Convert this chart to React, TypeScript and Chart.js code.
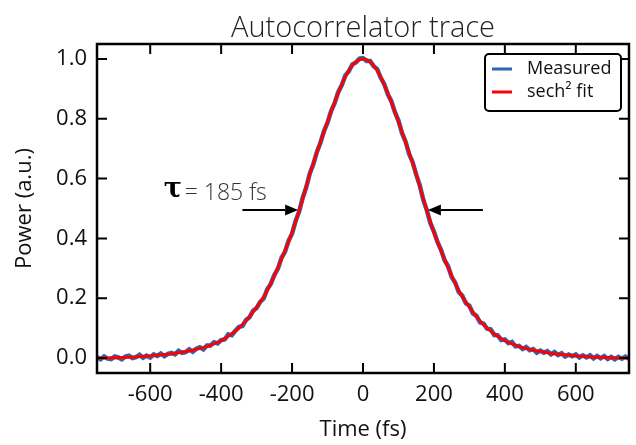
import { useEffect, useRef } from "react";
import { Chart, registerables } from "chart.js";

Chart.register(...registerables);

// ---------------- data ----------------
const chartTitle = "Autocorrelator trace";
const xAxisTitle = "Time (fs)";
const yAxisTitle = "Power (a.u.)";
const seriesNames = ["Measured", "sech² fit"];
const seriesColors = ["#2b67b1", "#ff0000"];

const xTicks = [-600, -400, -200, 0, 200, 400, 600];
const yTicks = [0, 0.2, 0.4, 0.6, 0.8, 1.0];
const xRange = [-750, 750];
const yRange = [-0.05, 1.05];

const measuredTime = [
  -750, -740, -730, -720, -710, -700, -690, -680, -670, -660,
  -650, -640, -630, -620, -610, -600, -590, -580, -570, -560,
  -550, -540, -530, -520, -510, -500, -490, -480, -470, -460,
  -450, -440, -430, -420, -410, -400, -390, -380, -370, -360,
  -350, -340, -330, -320, -310, -300, -290, -280, -270, -260,
  -250, -240, -230, -220, -210, -200, -190, -180, -170, -160,
  -150, -140, -130, -120, -110, -100, -90, -80, -70, -60,
  -50, -40, -30, -20, -10, 0,
  10, 20, 30, 40, 50, 60, 70, 80, 90, 100,
  110, 120, 130, 140, 150, 160, 170, 180, 190, 200,
  210, 220, 230, 240, 250, 260, 270, 280, 290, 300,
  310, 320, 330, 340, 350, 360, 370, 380, 390, 400,
  410, 420, 430, 440, 450, 460, 470, 480, 490, 500,
  510, 520, 530, 540, 550, 560, 570, 580, 590, 600,
  610, 620, 630, 640, 650, 660, 670, 680, 690, 700,
  710, 720, 730, 740, 750,
];

const measuredPower = [
  0.003, -0.004, 0.005, -0.002, -0.004, 0.005, 0.002, -0.004, 0.005, 0.008,
  0.000, 0.003, 0.011, 0.001, 0.008, 0.002, 0.012, 0.007, 0.015, 0.006,
  0.014, 0.017, 0.012, 0.024, 0.017, 0.020, 0.029, 0.021, 0.031, 0.036,
  0.029, 0.042, 0.042, 0.053, 0.049, 0.060, 0.062, 0.079, 0.076, 0.091,
  0.104, 0.107, 0.127, 0.136, 0.158, 0.167, 0.188, 0.199, 0.230, 0.248,
  0.278, 0.298, 0.335, 0.355, 0.392, 0.416, 0.458, 0.490, 0.536, 0.571,
  0.617, 0.648, 0.689, 0.720, 0.759, 0.787, 0.826, 0.852, 0.889, 0.912,
  0.944, 0.959, 0.982, 0.988, 1.001, 1.003,
  0.993, 0.993, 0.976, 0.966, 0.937, 0.916, 0.882, 0.859, 0.822, 0.794,
  0.752, 0.724, 0.682, 0.655, 0.613, 0.578, 0.529, 0.494, 0.451, 0.423,
  0.388, 0.362, 0.327, 0.307, 0.271, 0.252, 0.221, 0.208, 0.183, 0.175,
  0.149, 0.141, 0.119, 0.115, 0.098, 0.096, 0.077, 0.076, 0.060, 0.062,
  0.050, 0.054, 0.039, 0.041, 0.030, 0.037, 0.026, 0.030, 0.018, 0.025,
  0.018, 0.023, 0.012, 0.020, 0.010, 0.016, 0.005, 0.012, 0.006, 0.012,
  0.002, 0.009, 0.002, 0.009, -0.001, 0.007, -0.001, 0.007, -0.003, 0.004,
  -0.004, 0.004, -0.002, 0.005, -0.003,
];

const fitTime = [
  -750, -725, -700, -675, -650, -625, -600, -575, -550, -525,
  -500, -475, -450, -425, -400, -375, -350, -325, -300, -275,
  -250, -225, -200, -175, -150, -125, -100, -75, -50, -25,
  0,
  25, 50, 75, 100, 125, 150, 175, 200, 225, 250,
  275, 300, 325, 350, 375, 400, 425, 450, 475, 500,
  525, 550, 575, 600, 625, 650, 675, 700, 725, 750,
];

const fitPower = [
  0.000, 0.000, 0.001, 0.002, 0.003, 0.005, 0.007, 0.010, 0.013, 0.017,
  0.022, 0.028, 0.035, 0.045, 0.058, 0.077, 0.100, 0.131, 0.170, 0.215,
  0.275, 0.344, 0.420, 0.512, 0.615, 0.705, 0.790, 0.870, 0.940, 0.985,
  1.000,
  0.985, 0.940, 0.870, 0.790, 0.705, 0.615, 0.512, 0.420, 0.344, 0.275,
  0.215, 0.170, 0.131, 0.100, 0.077, 0.058, 0.045, 0.035, 0.028, 0.022,
  0.017, 0.013, 0.010, 0.007, 0.005, 0.003, 0.002, 0.001, 0.000, 0.000,
];

// FWHM annotation
const annotationSymbol = "τ";
const annotationText = "= 185 fs";
const annotationAnchor = [-562, 0.54]; // (time, power) where the label starts
const arrowLevel = 0.495;
const arrowTips = [-183, 183];
const arrowTails = [-340, 338];

// ---------------- component ----------------
const FONT = '"Open Sans", "DejaVu Sans", sans-serif';

const decorPlugin = {
  id: "decor",
  afterDraw(chart: any) {
    const { ctx, chartArea: a, scales } = chart;
    const xs = scales.x;
    const ys = scales.y;
    ctx.save();

    // frame
    ctx.strokeStyle = "#000";
    ctx.lineWidth = 2.5;
    ctx.strokeRect(a.left, a.top, a.right - a.left, a.bottom - a.top);

    // inward ticks on all four sides
    ctx.lineWidth = 2;
    const tl = 10;
    ctx.beginPath();
    for (const v of xTicks) {
      const px = xs.getPixelForValue(v);
      ctx.moveTo(px, a.bottom);
      ctx.lineTo(px, a.bottom - tl);
      ctx.moveTo(px, a.top);
      ctx.lineTo(px, a.top + tl);
    }
    for (const v of yTicks) {
      const py = ys.getPixelForValue(v);
      ctx.moveTo(a.left, py);
      ctx.lineTo(a.left + tl, py);
      ctx.moveTo(a.right, py);
      ctx.lineTo(a.right - tl, py);
    }
    ctx.stroke();

    // title
    ctx.fillStyle = "#222";
    ctx.font = `300 29px ${FONT}`;
    ctx.textAlign = "center";
    ctx.textBaseline = "alphabetic";
    ctx.fillText(chartTitle, (a.left + a.right) / 2, 37);

    // legend
    const bx = 485, by = 54, bw = 136, bh = 57;
    ctx.beginPath();
    ctx.roundRect(bx, by, bw, bh, 4);
    ctx.fillStyle = "#fff";
    ctx.fill();
    ctx.lineWidth = 2;
    ctx.strokeStyle = "#000";
    ctx.stroke();
    ctx.font = `18px ${FONT}`;
    ctx.textAlign = "left";
    ctx.textBaseline = "middle";
    seriesNames.forEach((name, i) => {
      const ly = by + 15 + i * 23;
      ctx.beginPath();
      ctx.strokeStyle = seriesColors[i];
      ctx.lineWidth = 3;
      ctx.moveTo(bx + 7, ly);
      ctx.lineTo(bx + 27, ly);
      ctx.stroke();
      ctx.fillStyle = "#111";
      ctx.fillText(name, bx + 42, ly);
    });

    // annotation text
    const ax = xs.getPixelForValue(annotationAnchor[0]);
    const ay = ys.getPixelForValue(annotationAnchor[1]);
    ctx.fillStyle = "#000";
    ctx.font = `bold 27px "DejaVu Serif", serif`;
    ctx.textBaseline = "alphabetic";
    ctx.fillText(annotationSymbol, ax, ay);
    ctx.fillStyle = "#333";
    ctx.font = `300 23px ${FONT}`;
    ctx.fillText(annotationText, ax + 21, ay + 3);

    // arrows
    ctx.strokeStyle = "#000";
    ctx.fillStyle = "#000";
    ctx.lineWidth = 2;
    const py = ys.getPixelForValue(arrowLevel);
    for (let i = 0; i < arrowTips.length; i++) {
      const tip = xs.getPixelForValue(arrowTips[i]);
      const tail = xs.getPixelForValue(arrowTails[i]);
      const dir = tip > tail ? 1 : -1;
      const head = 13;
      ctx.beginPath();
      ctx.moveTo(tail, py);
      ctx.lineTo(tip - dir * head, py);
      ctx.stroke();
      ctx.beginPath();
      ctx.moveTo(tip, py);
      ctx.lineTo(tip - dir * head, py - 5.5);
      ctx.lineTo(tip - dir * head, py + 5.5);
      ctx.closePath();
      ctx.fill();
    }

    ctx.restore();
  },
};

export default function App() {
  const canvasRef = useRef<HTMLCanvasElement | null>(null);

  useEffect(() => {
    if (!canvasRef.current) return;
    const chart = new Chart(canvasRef.current, {
      type: "line",
      data: {
        datasets: [
          {
            label: seriesNames[1],
            data: fitTime.map((t, i) => ({ x: t, y: fitPower[i] })),
            borderColor: seriesColors[1],
            borderWidth: 3,
            pointRadius: 0,
            cubicInterpolationMode: "monotone",
            order: 0,
          },
          {
            label: seriesNames[0],
            data: measuredTime.map((t, i) => ({ x: t, y: measuredPower[i] })),
            borderColor: seriesColors[0],
            borderWidth: 4.5,
            pointRadius: 0,
            tension: 0,
            order: 1,
          },
        ],
      },
      options: {
        animation: false,
        responsive: false,
        devicePixelRatio: 1,
        layout: { padding: { top: 44, right: 7, bottom: 0, left: 0 } },
        plugins: {
          legend: { display: false },
          tooltip: { enabled: false },
          title: { display: false },
        },
        scales: {
          x: {
            type: "linear",
            min: xRange[0],
            max: xRange[1],
            afterBuildTicks: (s: any) => {
              s.ticks = xTicks.map((value) => ({ value }));
            },
            afterFit: (s: any) => {
              s.height = 72;
            },
            grid: { display: false, drawTicks: false },
            border: { display: false },
            ticks: {
              font: { family: FONT, size: 22 },
              color: "#111",
              padding: 9,
              maxRotation: 0,
              autoSkip: false,
              callback: (v: any) => String(v),
            },
            title: {
              display: true,
              text: xAxisTitle,
              font: { family: FONT, size: 22 },
              color: "#111",
              padding: { top: 0, bottom: 2 },
            },
          },
          y: {
            type: "linear",
            min: yRange[0],
            max: yRange[1],
            afterBuildTicks: (s: any) => {
              s.ticks = yTicks.map((value) => ({ value }));
            },
            afterFit: (s: any) => {
              s.width = 97;
            },
            grid: { display: false, drawTicks: false },
            border: { display: false },
            ticks: {
              font: { family: FONT, size: 22 },
              color: "#111",
              padding: 10,
              autoSkip: false,
              callback: (v: any) => Number(v).toFixed(1),
            },
            title: {
              display: true,
              text: yAxisTitle,
              font: { family: FONT, size: 22 },
              color: "#111",
              padding: { top: 12, bottom: 0 },
            },
          },
        },
      },
      plugins: [decorPlugin],
    } as any);
    return () => chart.destroy();
  }, []);

  return (
    <div style={{ position: "fixed", left: 0, top: 0, width: 636, height: 445, background: "#fff" }}>
      <canvas ref={canvasRef} width={636} height={445} />
    </div>
  );
}
